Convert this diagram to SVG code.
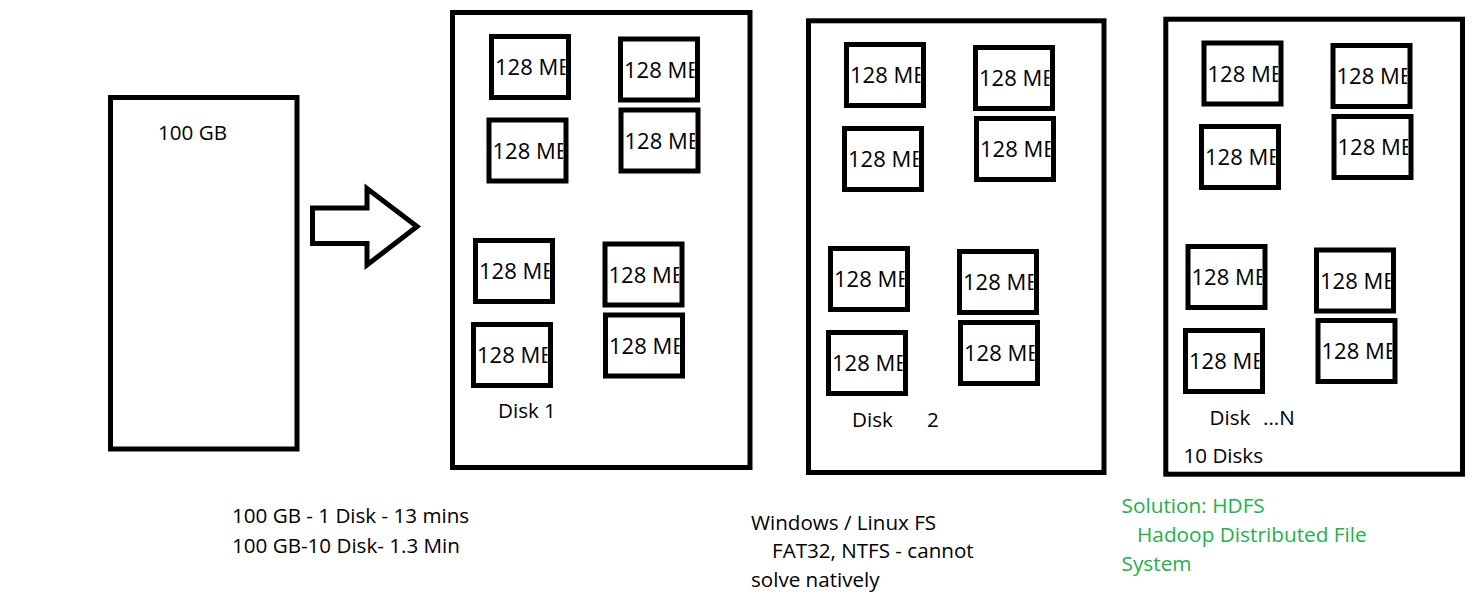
<svg xmlns="http://www.w3.org/2000/svg" width="1483" height="600" viewBox="0 0 1483 600">
<style>
  .box{fill:none;stroke:#000;stroke-width:5}
  .blk{fill:none;stroke:#000;stroke-width:5}
  .t{font-family:"Open Sans","Liberation Sans",sans-serif;font-size:20.6px;fill:#000}
  .bt{font-family:"Open Sans","Liberation Sans",sans-serif;font-size:22px;fill:#000}
  .g{font-family:"Open Sans","Liberation Sans",sans-serif;font-size:20.8px;fill:#22b14c}
</style>
<defs>
  <clipPath id="clip"><rect x="0" y="0" width="74" height="62"/></clipPath>
  <g id="blk">
    <text class="bt" x="3.5" y="38.5" clip-path="url(#clip)">128 MB</text>
    <rect class="blk" x="0" y="0" width="77" height="61"/>
  </g>
</defs>
<rect width="1483" height="600" fill="#fff"/>

<g id="source">
  <rect class="box" x="110.5" y="97.5" width="186.5" height="351.5"/>
  <text class="t" x="158" y="140">100 GB</text>
</g>

<g id="connectors">
  <polygon points="312.5,208 367,208 367,188.5 417,226.5 367,265 367,243.5 312.5,243.5" fill="none" stroke="#000" stroke-width="5" stroke-linejoin="miter"/>
</g>

<g id="disk1">
  <rect class="box" x="452.5" y="12.5" width="297.5" height="455"/>
  <text class="t" x="498" y="418">Disk 1</text>
</g>
<g id="d1-a"><use href="#blk" transform="translate(491.5,36.5)"/></g>
<g id="d1-b"><use href="#blk" transform="translate(620.5,39)"/></g>
<g id="d1-c"><use href="#blk" transform="translate(489,120)"/></g>
<g id="d1-d"><use href="#blk" transform="translate(621,110)"/></g>
<g id="d1-e"><use href="#blk" transform="translate(475.5,240.5)"/></g>
<g id="d1-f"><use href="#blk" transform="translate(605,244)"/></g>
<g id="d1-g"><use href="#blk" transform="translate(473.5,324.5)"/></g>
<g id="d1-h"><use href="#blk" transform="translate(605.5,315)"/></g>

<g id="disk2">
  <rect class="box" x="808.5" y="20.8" width="295.5" height="451.7"/>
  <text class="t" x="852" y="427">Disk<tspan x="927">2</tspan></text>
</g>
<g id="d2-a"><use href="#blk" transform="translate(846.5,44.5)"/></g>
<g id="d2-b"><use href="#blk" transform="translate(975.5,47.5)"/></g>
<g id="d2-c"><use href="#blk" transform="translate(844.5,128.5)"/></g>
<g id="d2-d"><use href="#blk" transform="translate(976.5,118.5)"/></g>
<g id="d2-e"><use href="#blk" transform="translate(830.5,248.5)"/></g>
<g id="d2-f"><use href="#blk" transform="translate(959.5,251.5)"/></g>
<g id="d2-g"><use href="#blk" transform="translate(828.5,332.5)"/></g>
<g id="d2-h"><use href="#blk" transform="translate(960.5,322.5)"/></g>

<g id="diskN">
  <rect class="box" x="1165.8" y="19.2" width="296.7" height="455"/>
  <text class="t" x="1209.5" y="424.5">Disk<tspan x="1263">...N</tspan></text>
  <text class="t" x="1183.5" y="462.5">10 Disks</text>
</g>
<g id="dn-a"><use href="#blk" transform="translate(1204,43)"/></g>
<g id="dn-b"><use href="#blk" transform="translate(1333,45.5)"/></g>
<g id="dn-c"><use href="#blk" transform="translate(1201.5,126.5)"/></g>
<g id="dn-d"><use href="#blk" transform="translate(1334,116.5)"/></g>
<g id="dn-e"><use href="#blk" transform="translate(1188,246.5)"/></g>
<g id="dn-f"><use href="#blk" transform="translate(1316.5,250)"/></g>
<g id="dn-g"><use href="#blk" transform="translate(1185.5,330.5)"/></g>
<g id="dn-h"><use href="#blk" transform="translate(1318,320.5)"/></g>

<g id="note-timing">
  <text class="t" x="232" y="522.7">100 GB - 1 Disk - 13 mins</text>
  <text class="t" x="232" y="552.7">100 GB-10 Disk- 1.3 Min</text>
</g>
<g id="note-fs">
  <text class="t" x="751" y="529.5">Windows / Linux FS</text>
  <text class="t" x="772" y="558.3">FAT32, NTFS - cannot</text>
  <text class="t" x="751" y="587">solve natively</text>
</g>
<g id="note-solution">
  <text class="g" x="1121.5" y="512.7">Solution: HDFS</text>
  <text class="g" x="1137" y="541.7">Hadoop Distributed File</text>
  <text class="g" x="1121.5" y="571">System</text>
</g>
</svg>
